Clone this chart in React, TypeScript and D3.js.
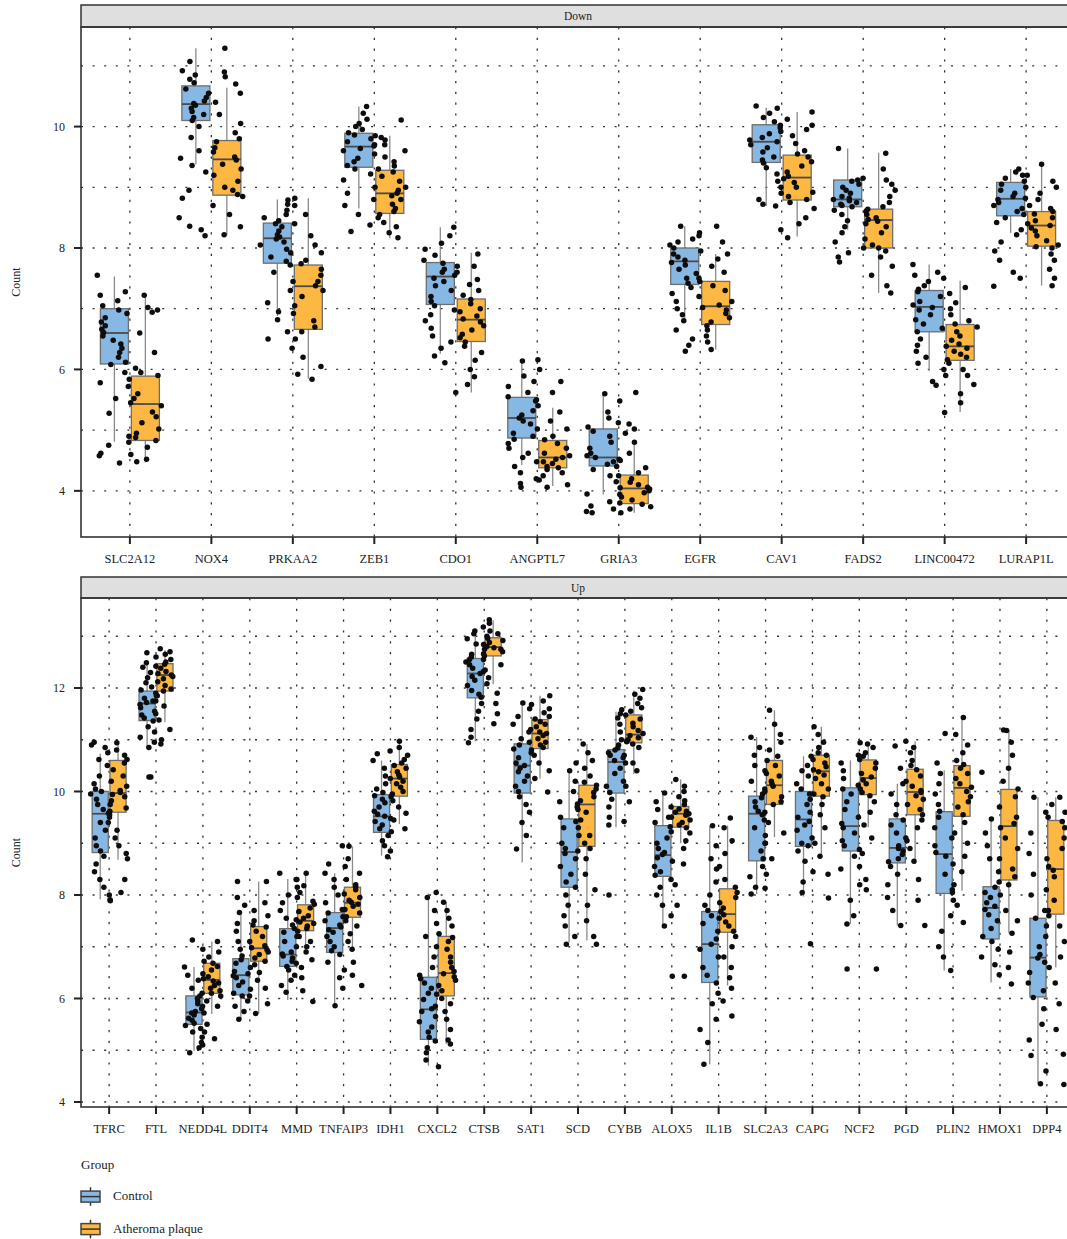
import React from "react";
import * as d3 from "d3";

const genesDown = ["SLC2A12","NOX4","PRKAA2","ZEB1","CDO1","ANGPTL7","GRIA3","EGFR","CAV1","FADS2","LINC00472","LURAP1L"];
const genesUp = ["TFRC","FTL","NEDD4L","DDIT4","MMD","TNFAIP3","IDH1","CXCL2","CTSB","SAT1","SCD","CYBB","ALOX5","IL1B","SLC2A3","CAPG","NCF2","PGD","PLIN2","HMOX1","DPP4"];
const groups = ["Control","Atheroma plaque"];
const groupColors = ["#87B8E3","#FDB843"];
const downTicks = [4,6,8,10];
const upTicks = [4,6,8,10,12];

// [lower whisker, q1, median, q3, upper whisker]
const downCtrlStats = [
  [4.81,6.09,6.6,7.0,7.53],[9.38,10.1,10.37,10.67,11.29],[6.88,7.75,8.16,8.41,8.8],[8.65,9.33,9.67,9.89,10.33],
  [6.26,7.07,7.53,7.76,8.34],[4.42,4.87,5.2,5.54,6.14],[3.94,4.41,4.55,5.02,5.6],[6.82,7.4,7.78,8.0,8.36],
  [8.69,9.41,9.75,10.03,10.31],[8.3,8.68,8.8,9.12,9.64],[5.97,6.62,7.03,7.3,7.73],[8.25,8.53,8.81,9.08,9.3]];
const downPlaqStats = [
  [4.47,4.83,5.43,5.89,7.24],[8.21,8.87,9.46,9.77,10.64],[5.85,6.66,7.37,7.72,8.82],[8.16,8.57,8.9,9.28,9.85],
  [5.62,6.46,6.82,7.16,7.92],[4.08,4.38,4.55,4.83,5.37],[3.64,3.79,4.04,4.26,4.76],[6.33,6.74,7.04,7.45,7.9],
  [8.19,8.79,9.16,9.53,10.24],[7.26,8.0,8.46,8.64,9.57],[5.3,6.15,6.38,6.74,7.46],[7.38,8.03,8.37,8.6,9.38]];
const upCtrlStats = [
  [7.92,8.82,9.57,10.0,10.73],[10.83,11.37,11.7,11.94,12.49],[4.99,5.5,5.73,6.05,6.61],[5.6,6.07,6.45,6.77,7.66],
  [5.97,6.62,6.85,7.35,8.31],[5.86,6.89,7.36,7.66,8.42],[8.76,9.21,9.52,9.94,10.6],[4.7,5.21,5.79,6.41,8.03],
  [10.97,11.81,12.28,12.57,13.08],[8.63,9.97,10.5,10.92,11.66],[7.08,8.15,8.83,9.47,10.41],[9.31,9.97,10.57,10.81,11.54],
  [7.37,8.36,8.77,9.34,9.97],[4.73,6.31,7.05,7.68,9.34],[8.02,8.66,9.57,9.91,11.05],[7.97,8.94,9.46,10.0,10.68],
  [7.44,8.85,9.33,10.07,10.6],[7.41,8.62,8.91,9.47,10.15],[6.54,8.03,8.79,9.61,10.41],[6.31,7.15,7.75,8.16,9.47],
  [4.35,6.03,6.79,7.55,9.89]];
const upPlaqStats = [
  [8.68,9.6,9.97,10.6,10.94],[11.34,11.94,12.25,12.47,12.73],[5.7,6.1,6.36,6.68,7.1],[5.71,6.72,6.97,7.39,8.26],
  [6.9,7.31,7.5,7.81,8.42],[6.92,7.57,7.85,8.15,8.94],[9.37,9.91,10.25,10.52,10.97],[5.12,6.05,6.49,7.2,7.86],
  [12.07,12.62,12.79,12.97,13.31],[10.25,10.83,11.12,11.39,11.85],[7.12,8.94,9.75,10.12,10.92],[10.34,10.94,11.1,11.48,11.95],
  [9.0,9.31,9.57,9.71,10.23],[6.25,7.28,7.63,8.12,9.34],[9.12,9.75,10.12,10.6,11.57],[8.73,9.91,10.39,10.7,11.25],
  [9.31,9.94,10.26,10.61,10.92],[8.6,9.55,9.99,10.43,10.97],[8.08,9.52,10.07,10.5,11.43],[7.26,8.29,9.33,10.04,11.19],
  [6.6,7.63,8.5,9.44,9.89]];

const downCtrlPts = [
  [7.55,7.28,7.22,7.13,7.05,6.98,6.92,6.85,6.78,6.72,6.66,6.61,6.55,6.48,6.42,6.35,6.28,6.2,6.12,6.08,5.95,5.78,5.52,5.28,4.9,4.75,4.62,4.58,4.46],
  [11.07,10.92,10.85,10.78,10.72,10.62,10.55,10.48,10.42,10.38,10.35,10.3,10.25,10.2,10.15,10.1,10.0,9.82,9.6,9.48,9.36,9.25,8.95,8.82,8.5,8.36,8.3,8.2],
  [8.79,8.72,8.62,8.55,8.5,8.45,8.4,8.35,8.28,8.22,8.18,8.15,8.1,8.05,7.98,7.92,7.85,7.78,7.72,7.6,7.45,7.3,7.1,6.95,6.82,6.62,6.5],
  [10.33,10.22,10.12,10.05,10.0,9.95,9.9,9.86,9.8,9.75,9.7,9.68,9.64,9.6,9.55,9.48,9.42,9.36,9.3,9.22,9.12,9.0,8.9,8.8,8.7,8.55,8.38,8.27],
  [8.34,8.2,8.08,7.98,7.88,7.8,7.75,7.7,7.65,7.6,7.55,7.5,7.45,7.38,7.3,7.2,7.12,7.05,6.98,6.9,6.8,6.68,6.55,6.45,6.35,6.22,6.11],
  [6.14,5.89,5.8,5.72,5.62,5.55,5.48,5.4,5.32,5.25,5.2,5.15,5.1,5.02,4.95,4.9,4.85,4.78,4.7,4.62,4.55,4.48,4.4,4.3,4.2,4.12,4.06],
  [5.6,5.48,5.3,5.2,5.12,5.05,4.98,4.9,4.8,4.7,4.62,4.58,4.55,4.52,4.48,4.44,4.4,4.35,4.25,4.15,4.05,3.95,3.82,3.75,3.7,3.66,3.64],
  [8.36,8.2,8.15,8.1,8.05,8.0,7.95,7.9,7.85,7.8,7.76,7.72,7.65,7.58,7.5,7.42,7.35,7.25,7.12,7.0,6.9,6.8,6.65,6.5,6.4,6.3],
  [10.34,10.3,10.22,10.15,10.08,10.02,9.98,9.92,9.88,9.82,9.78,9.75,9.7,9.65,9.58,9.5,9.45,9.4,9.32,9.22,9.1,9.0,8.9,8.8,8.72,8.69],
  [9.64,9.15,9.12,9.1,9.05,9.0,8.95,8.9,8.85,8.82,8.8,8.78,8.75,8.72,8.7,8.68,8.62,8.55,8.45,8.35,8.25,8.1,8.0,7.92,7.85,7.77],
  [7.73,7.6,7.55,7.45,7.38,7.32,7.28,7.2,7.12,7.06,7.02,6.98,6.9,6.82,6.75,6.68,6.62,6.5,6.4,6.3,6.2,6.1,6.0,5.9,5.8,5.74],
  [9.3,9.25,9.2,9.15,9.1,9.05,9.0,8.95,8.9,8.85,8.82,8.8,8.75,8.7,8.65,8.6,8.55,8.5,8.42,8.3,8.22,8.1,7.95,7.8,7.6,7.5,7.37]];
const downPlaqPts = [
  [7.22,7.02,6.98,6.94,6.6,6.28,6.02,5.95,5.9,5.84,5.72,5.6,5.52,5.45,5.4,5.3,5.22,5.12,5.02,4.95,4.88,4.83,4.8,4.72,4.6,4.52,4.48],
  [11.29,10.9,10.82,10.7,10.55,10.4,10.2,10.05,9.9,9.8,9.75,9.65,9.58,9.5,9.45,9.38,9.3,9.2,9.1,9.0,8.95,8.88,8.85,8.7,8.55,8.35,8.22],
  [8.82,8.7,8.55,8.4,8.2,8.05,7.92,7.8,7.74,7.65,7.55,7.45,7.38,7.3,7.2,7.05,6.92,6.8,6.7,6.62,6.5,6.35,6.2,6.05,5.92,5.84],
  [10.11,9.85,9.82,9.78,9.7,9.6,9.5,9.42,9.35,9.3,9.25,9.18,9.1,9.0,8.95,8.9,8.86,8.8,8.72,8.65,8.6,8.55,8.5,8.42,8.35,8.25,8.17],
  [7.9,7.7,7.6,7.48,7.4,7.3,7.22,7.15,7.08,7.0,6.95,6.88,6.83,6.78,6.72,6.65,6.58,6.52,6.45,6.38,6.28,6.15,6.0,5.88,5.75,5.62],
  [6.16,6.0,5.8,5.62,5.5,5.3,5.15,5.02,4.9,4.84,4.78,4.7,4.62,4.58,4.55,4.52,4.48,4.45,4.4,4.38,4.35,4.3,4.25,4.18,4.1,4.06],
  [5.62,5.1,5.02,4.95,4.8,4.62,4.5,4.38,4.3,4.25,4.2,4.14,4.1,4.06,4.03,4.0,3.97,3.94,3.9,3.85,3.8,3.78,3.74,3.7,3.64],
  [8.36,8.25,8.1,7.9,7.82,7.7,7.6,7.5,7.45,7.38,7.3,7.2,7.12,7.06,7.02,6.98,6.92,6.85,6.78,6.72,6.65,6.55,6.45,6.33],
  [10.24,10.12,10.02,9.95,9.85,9.72,9.6,9.55,9.5,9.42,9.35,9.25,9.18,9.14,9.08,9.0,8.92,8.85,8.8,8.75,8.65,8.5,8.4,8.3,8.17],
  [9.56,9.3,9.12,9.05,8.95,8.85,8.75,8.68,8.64,8.6,8.55,8.5,8.47,8.44,8.4,8.35,8.25,8.15,8.05,8.0,7.95,7.85,7.7,7.55,7.38,7.26],
  [7.5,7.35,7.25,7.1,7.0,6.9,6.8,6.75,6.7,6.62,6.55,6.48,6.42,6.38,6.35,6.3,6.25,6.2,6.16,6.1,6.0,5.9,5.75,5.6,5.45,5.29],
  [9.38,9.2,9.1,9.0,8.9,8.8,8.7,8.65,8.6,8.56,8.5,8.45,8.4,8.37,8.33,8.28,8.2,8.12,8.05,8.02,8.0,7.9,7.8,7.65,7.5,7.38]];
const upCtrlPts = [
  [10.95,10.9,10.85,10.75,10.62,10.5,10.3,10.15,10.05,10.0,9.95,9.85,9.75,9.65,9.58,9.5,9.4,9.25,9.1,8.95,8.85,8.75,8.6,8.45,8.3,8.15,8.0,7.91],
  [12.68,12.49,12.4,12.3,12.2,12.1,12.02,11.96,11.9,11.85,11.8,11.75,11.72,11.68,11.62,11.55,11.48,11.42,11.36,11.25,11.15,11.05,10.95,10.85,10.28,10.28],
  [7.13,6.61,6.45,6.35,6.2,6.1,6.05,6.0,5.95,5.9,5.85,5.8,5.75,5.72,5.68,5.62,5.58,5.52,5.48,5.42,5.35,5.25,5.15,5.05,4.95],
  [8.26,7.95,7.8,7.66,7.45,7.3,7.1,6.95,6.82,6.75,6.68,6.6,6.52,6.48,6.44,6.4,6.32,6.25,6.18,6.1,6.05,5.95,5.85,5.75,5.6],
  [8.42,8.3,8.15,8.0,7.85,7.7,7.55,7.42,7.35,7.28,7.2,7.1,7.0,6.9,6.86,6.82,6.78,6.72,6.68,6.62,6.55,6.45,6.35,6.25,6.12],
  [8.95,8.6,8.42,8.3,8.15,8.0,7.85,7.72,7.65,7.58,7.5,7.42,7.38,7.33,7.28,7.2,7.1,7.0,6.92,6.85,6.7,6.55,6.4,6.2,5.86],
  [10.73,10.6,10.45,10.3,10.15,10.05,9.98,9.92,9.85,9.78,9.7,9.62,9.56,9.52,9.48,9.42,9.35,9.28,9.22,9.15,9.05,8.95,8.85,8.74],
  [8.05,7.95,7.7,7.45,7.2,7.0,6.8,6.6,6.45,6.38,6.3,6.2,6.1,5.98,5.85,5.8,5.75,5.65,5.55,5.45,5.35,5.25,5.18,5.05,4.95,4.81],
  [13.1,13.05,12.95,12.85,12.75,12.65,12.6,12.55,12.5,12.45,12.38,12.32,12.28,12.22,12.15,12.05,11.95,11.88,11.82,11.7,11.55,11.4,11.2,11.05,10.94],
  [11.71,11.6,11.45,11.3,11.15,11.02,10.95,10.9,10.82,10.75,10.65,10.55,10.5,10.45,10.38,10.3,10.2,10.1,10.0,9.9,9.75,9.6,9.4,9.15,8.89],
  [10.55,10.4,10.2,10.0,9.8,9.65,9.5,9.42,9.3,9.15,9.0,8.9,8.85,8.8,8.7,8.55,8.4,8.25,8.15,8.0,7.8,7.6,7.4,7.2,7.05],
  [11.58,11.5,11.42,11.3,11.15,11.0,10.9,10.84,10.8,10.75,10.7,10.65,10.6,10.55,10.45,10.35,10.2,10.1,9.98,9.85,9.7,9.5,9.35,8.0],
  [9.97,9.8,9.65,9.5,9.4,9.32,9.22,9.1,9.0,8.9,8.82,8.78,8.72,8.65,8.55,8.45,8.38,8.3,8.15,8.0,7.8,7.6,7.4,6.43],
  [9.34,8.95,8.7,8.5,8.25,8.0,7.8,7.7,7.6,7.45,7.3,7.15,7.05,6.95,6.8,6.6,6.45,6.3,6.1,5.9,5.6,5.4,5.15,4.73],
  [11.05,10.85,10.7,10.5,10.35,10.2,10.05,9.95,9.88,9.8,9.7,9.62,9.55,9.45,9.3,9.15,9.0,8.85,8.7,8.55,8.35,8.15,8.02],
  [10.68,10.5,10.4,10.3,10.15,10.05,9.95,9.85,9.75,9.6,9.5,9.42,9.35,9.25,9.1,9.0,8.95,8.85,8.65,8.45,8.25,8.05,7.06],
  [10.94,10.7,10.55,10.4,10.25,10.12,10.05,9.95,9.8,9.65,9.5,9.38,9.3,9.2,9.05,8.95,8.88,8.75,8.5,8.2,7.9,7.6,7.44,6.57],
  [10.88,10.45,10.15,9.95,9.75,9.55,9.45,9.35,9.2,9.05,8.95,8.9,8.85,8.78,8.7,8.64,8.55,8.4,8.2,7.95,7.7,7.41],
  [11.12,10.55,10.35,10.15,9.95,9.75,9.62,9.5,9.3,9.1,8.95,8.82,8.75,8.6,8.4,8.2,8.05,7.9,7.6,7.3,7.0,6.8,6.54],
  [10.37,9.47,9.2,8.95,8.7,8.45,8.25,8.15,8.05,7.95,7.85,7.78,7.72,7.62,7.5,7.35,7.2,7.1,6.95,6.8,6.65,6.46],
  [9.89,9.6,9.2,8.8,8.4,8.0,7.7,7.55,7.4,7.2,7.0,6.85,6.78,6.7,6.5,6.3,6.15,6.02,5.8,5.5,5.2,4.9,4.6,4.35]];
const upPlaqPts = [
  [10.94,10.8,10.7,10.62,10.55,10.42,10.3,10.2,10.1,10.02,9.98,9.94,9.9,9.82,9.75,9.68,9.62,9.55,9.4,9.25,9.1,8.95,8.8,8.7,8.3,8.05,7.89],
  [12.76,12.7,12.65,12.6,12.55,12.5,12.46,12.42,12.38,12.32,12.28,12.25,12.22,12.18,12.12,12.05,11.98,11.94,11.85,11.75,11.65,11.5,11.38,11.2,11.0,10.92],
  [7.1,6.95,6.9,6.8,6.72,6.68,6.62,6.55,6.48,6.42,6.38,6.34,6.3,6.25,6.2,6.15,6.1,6.05,5.95,5.85,5.72,5.5,5.35,5.22,5.1],
  [8.26,7.85,7.7,7.6,7.5,7.42,7.38,7.3,7.2,7.1,7.02,6.98,6.94,6.9,6.85,6.78,6.72,6.65,6.5,6.35,6.2,6.05,5.9,5.71],
  [8.42,8.3,8.18,8.05,7.95,7.88,7.82,7.75,7.68,7.6,7.55,7.52,7.48,7.45,7.4,7.35,7.3,7.2,7.1,7.0,6.9,6.75,6.6,6.4,6.15,5.94],
  [8.94,8.7,8.55,8.42,8.3,8.2,8.15,8.1,8.02,7.95,7.9,7.86,7.82,7.78,7.72,7.65,7.58,7.5,7.4,7.25,7.1,6.95,6.7,6.45,6.25],
  [10.97,10.85,10.78,10.7,10.62,10.55,10.5,10.45,10.38,10.32,10.28,10.25,10.2,10.15,10.08,10.0,9.95,9.9,9.82,9.7,9.58,9.45,9.28],
  [7.86,7.7,7.55,7.4,7.25,7.18,7.1,6.95,6.8,6.7,6.6,6.52,6.48,6.42,6.35,6.25,6.15,6.08,6.0,5.9,5.75,5.6,5.4,5.2,5.12,4.68],
  [13.32,13.25,13.18,13.1,13.05,13.0,12.96,12.92,12.88,12.84,12.8,12.78,12.75,12.7,12.66,12.62,12.55,12.45,12.35,12.2,12.08,11.9,11.7,11.5,11.31],
  [11.85,11.75,11.68,11.6,11.52,11.45,11.4,11.35,11.3,11.25,11.2,11.15,11.12,11.08,11.02,10.95,10.9,10.85,10.8,10.7,10.55,10.4,10.25,9.99],
  [10.92,10.75,10.6,10.45,10.3,10.18,10.12,10.05,9.98,9.9,9.82,9.76,9.7,9.6,9.45,9.3,9.15,9.0,8.9,8.7,8.4,8.1,7.8,7.5,7.2,7.05],
  [11.97,11.88,11.8,11.7,11.62,11.55,11.48,11.4,11.32,11.25,11.18,11.12,11.08,11.04,11.0,10.96,10.92,10.85,10.7,10.55,10.4,10.1,9.8,9.42],
  [10.23,10.1,10.0,9.9,9.82,9.75,9.7,9.66,9.62,9.6,9.57,9.54,9.5,9.45,9.4,9.35,9.3,9.2,9.05,8.9,8.6,8.2,7.8,6.43],
  [9.49,9.3,9.05,8.8,8.55,8.3,8.15,8.05,7.95,7.85,7.75,7.68,7.62,7.55,7.48,7.4,7.3,7.2,7.0,6.8,6.6,6.4,6.2,5.95,5.66],
  [11.57,11.3,11.1,10.95,10.8,10.68,10.6,10.5,10.4,10.3,10.2,10.15,10.1,10.0,9.9,9.8,9.75,9.6,9.4,9.2,9.0,8.7,8.4,8.13],
  [11.25,11.1,10.95,10.85,10.75,10.7,10.62,10.55,10.48,10.42,10.38,10.32,10.25,10.15,10.05,9.95,9.9,9.75,9.55,9.3,9.0,8.75,8.4,7.94],
  [10.92,10.85,10.75,10.68,10.62,10.55,10.45,10.35,10.28,10.22,10.15,10.05,9.98,9.92,9.8,9.6,9.35,9.1,8.8,8.55,8.3,8.1,6.57],
  [10.97,10.85,10.75,10.6,10.5,10.42,10.3,10.2,10.1,10.02,9.98,9.92,9.85,9.75,9.65,9.55,9.45,9.3,9.1,8.9,8.65,8.3,7.9,7.41],
  [11.43,11.1,10.9,10.75,10.6,10.52,10.45,10.35,10.25,10.15,10.08,10.0,9.9,9.8,9.7,9.55,9.4,9.2,9.0,8.75,8.45,8.1,7.8,7.47],
  [11.19,11.18,10.95,10.7,10.45,10.2,10.05,9.9,9.7,9.5,9.38,9.3,9.1,8.9,8.7,8.5,8.35,8.2,8.0,7.7,7.5,7.26,6.9,6.6,6.28],
  [9.89,9.75,9.6,9.5,9.42,9.3,9.1,8.9,8.7,8.55,8.48,8.35,8.1,7.9,7.7,7.6,7.4,7.1,6.8,6.6,6.3,5.9,5.4,4.92,4.34]];

const FONT = "'Liberation Serif', 'DejaVu Serif', serif";
const PLOT_LEFT = 81;
const PLOT_RIGHT = 1075;

function hash(a: number, b: number, c: number) {
  const h = Math.sin(a * 127.1 + b * 311.7 + c * 74.7) * 43758.5453;
  return (h - Math.floor(h)) * 2 - 1;
}

type PanelProps = {
  title: string; genes: string[]; stats: number[][][]; pts: number[][][];
  stripTop: number; top: number; bottom: number; domain: [number, number]; ticks: number[]; pid: number;
};

function Panel({ title, genes, stats, pts, stripTop, top, bottom, domain, ticks, pid }: PanelProps) {
  const n = genes.length;
  const x = d3.scaleLinear().domain([0.4, n + 0.6]).range([PLOT_LEFT, PLOT_RIGHT]);
  const y = d3.scaleLinear().domain(domain).range([bottom, top]);
  const unit = x(1) - x(0);
  const dodge = 0.19;
  const halfW = 0.172;
  const jitterW = 0.21;
  const gridVals = d3.range(Math.ceil(domain[0]), Math.floor(domain[1]) + 1);
  const gridColor = "#333";
  return (
    <g>
      <rect x={PLOT_LEFT} y={stripTop} width={PLOT_RIGHT - PLOT_LEFT} height={top - stripTop} fill="#E0DFE0" stroke="#333" strokeWidth={1.5} />
      <text x={(PLOT_LEFT + PLOT_RIGHT) / 2} y={(stripTop + top) / 2} dy="0.35em" textAnchor="middle" fontFamily={FONT} fontSize={11.5} fill="#1a1a1a">{title}</text>
      {gridVals.map(v => (
        <line key={"h" + v} x1={PLOT_LEFT} x2={PLOT_RIGHT} y1={y(v)} y2={y(v)} stroke={gridColor} strokeWidth={1.3} strokeDasharray="2,9.6" />
      ))}
      {genes.map((g, i) => (
        <line key={"v" + g} x1={x(i + 1)} x2={x(i + 1)} y1={top} y2={bottom} stroke={gridColor} strokeWidth={1.3} strokeDasharray="2.2,8.6" />
      ))}
      {genes.map((g, i) => (
        <g key={"b" + g}>
          {[0, 1].map(k => {
            const s = stats[k][i];
            const cx = x(i + 1 + (k === 0 ? -dodge : dodge));
            const w = halfW * unit;
            return (
              <g key={k}>
                <line x1={cx} x2={cx} y1={y(s[4])} y2={y(s[3])} stroke="#8a8a8a" strokeWidth={1.3} />
                <line x1={cx} x2={cx} y1={y(s[1])} y2={y(s[0])} stroke="#8a8a8a" strokeWidth={1.3} />
                <rect x={cx - w} y={y(s[3])} width={2 * w} height={y(s[1]) - y(s[3])} fill={groupColors[k]} stroke="#6e6e6e" strokeWidth={1.3} />
                <line x1={cx - w} x2={cx + w} y1={y(s[2])} y2={y(s[2])} stroke="#4a4a4a" strokeWidth={1.8} />
              </g>
            );
          })}
        </g>
      ))}
      {genes.map((g, i) => (
        <g key={"p" + g}>
          {[0, 1].map(k => pts[k][i].map((v, j) => {
            const cx = x(i + 1 + (k === 0 ? -dodge : dodge) + jitterW * hash(i + pid * 50, j, k));
            return <circle key={k + "-" + j} cx={cx} cy={y(v)} r={2.75} fill="#0d0d0d" />;
          }))}
        </g>
      ))}
      <rect x={PLOT_LEFT} y={top} width={PLOT_RIGHT - PLOT_LEFT} height={bottom - top} fill="none" stroke="#333" strokeWidth={1.6} />
      {ticks.map(t => (
        <g key={"yt" + t}>
          <line x1={PLOT_LEFT - 7} x2={PLOT_LEFT} y1={y(t)} y2={y(t)} stroke="#222" strokeWidth={2} />
          <text x={PLOT_LEFT - 16} y={y(t)} dy="0.35em" textAnchor="end" fontFamily={FONT} fontSize={12} fill="#222">{t}</text>
        </g>
      ))}
      {genes.map((g, i) => (
        <g key={"xt" + g}>
          <line x1={x(i + 1)} x2={x(i + 1)} y1={bottom} y2={bottom + 7} stroke="#222" strokeWidth={2} />
          <text x={x(i + 1)} y={bottom + 26} textAnchor="middle" fontFamily={FONT} fontSize={12.5} fill="#222">{g}</text>
        </g>
      ))}
      <text transform={`translate(20,${(top + bottom) / 2}) rotate(-90)`} textAnchor="middle" fontFamily={FONT} fontSize={12} fill="#222">Count</text>
    </g>
  );
}

function LegendKey({ y0, color, label }: { y0: number; color: string; label: string }) {
  const cx = 90.5;
  return (
    <g>
      <line x1={cx} x2={cx} y1={y0} y2={y0 + 18.5} stroke="#333" strokeWidth={1.5} />
      <rect x={81} y={y0 + 3.8} width={19} height={11} fill={color} stroke="#444" strokeWidth={1.5} />
      <line x1={81} x2={100} y1={y0 + 9.3} y2={y0 + 9.3} stroke="#333" strokeWidth={1.5} />
      <text x={113} y={y0 + 13} fontFamily={FONT} fontSize={13} fill="#222">{label}</text>
    </g>
  );
}

export default function App() {
  return (
    <svg width={1067} height={1239} style={{ position: "absolute", left: 0, top: 0, background: "#fff" }}>
      <rect width={1067} height={1239} fill="#fff" />
      <Panel title="Down" genes={genesDown} stats={[downCtrlStats, downPlaqStats]} pts={[downCtrlPts, downPlaqPts]}
        stripTop={5} top={27} bottom={537} domain={[3.24, 11.64]} ticks={downTicks} pid={0} />
      <Panel title="Up" genes={genesUp} stats={[upCtrlStats, upPlaqStats]} pts={[upCtrlPts, upPlaqPts]}
        stripTop={577} top={598} bottom={1107} domain={[3.903, 13.739]} ticks={upTicks} pid={1} />
      <text x={81} y={1169} fontFamily={FONT} fontSize={13} fill="#222">Group</text>
      <LegendKey y0={1187.3} color={groupColors[0]} label={groups[0]} />
      <LegendKey y0={1219.8} color={groupColors[1]} label={groups[1]} />
    </svg>
  );
}
